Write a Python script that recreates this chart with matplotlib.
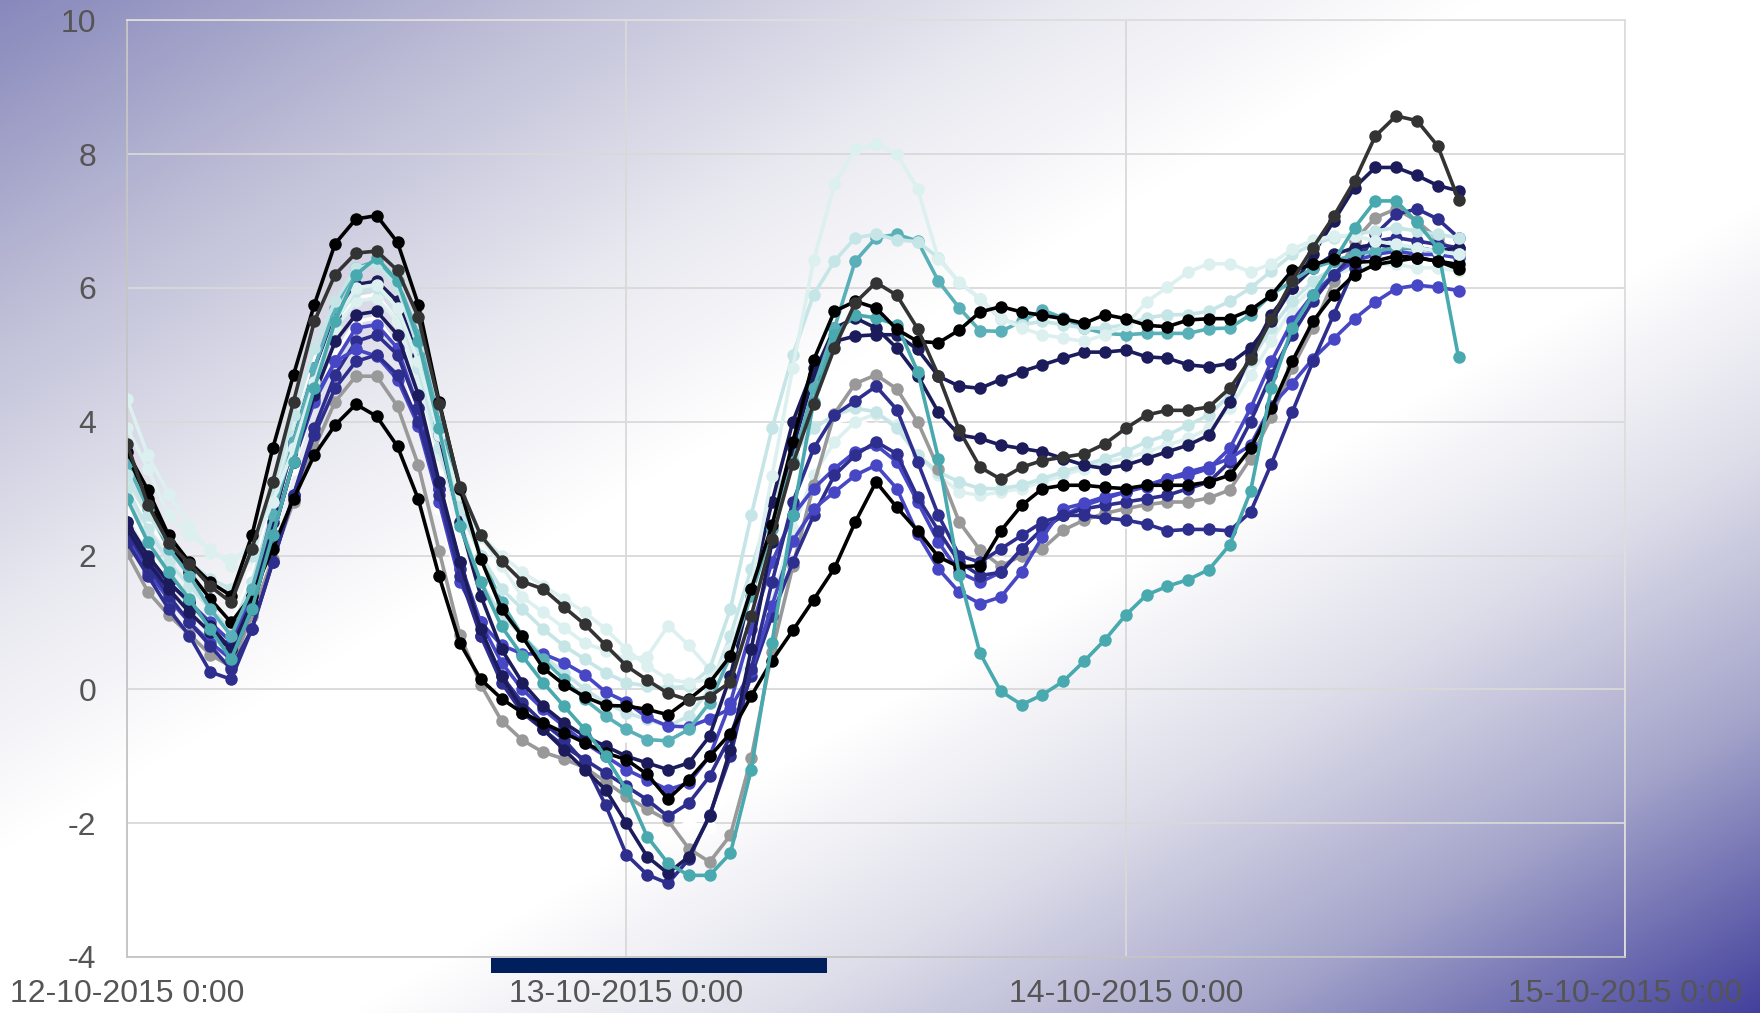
"""
Hourly temperature traces, 12-10-2015 to 14-10-2015, drawn on a
diagonal blue/white gradient background.
"""

import numpy as np
import pandas as pd
import matplotlib
matplotlib.use("Agg")
import matplotlib.pyplot as plt
import matplotlib.dates as mdates
import matplotlib.transforms as mtransforms
from matplotlib.patches import Rectangle

# ------------------------------------------------------------------
# Data (one value per hour, starting 12-10-2015 0:00)
# ------------------------------------------------------------------
START = "2015-10-12 00:00"
X_TICKS = ["2015-10-12", "2015-10-13", "2015-10-14", "2015-10-15"]
X_TICK_LABELS = ["12-10-2015 0:00", "13-10-2015 0:00", "14-10-2015 0:00", "15-10-2015 0:00"]
Y_TICKS = [-4, -2, 0, 2, 4, 6, 8, 10]
BAR_RANGE = ["2015-10-12 17:30", "2015-10-13 09:40"]

white_b = [2.7, 2.1, 1.6, 1.3, 1.0, 0.75, 1.3, 2.3, 3.3, 4.3, 5.0, 5.5, 5.55,
           5.1, 4.0, 2.7, 1.5, 0.6, 0.0, -0.45, -0.8, -1.1, -1.4, -1.7, -2.0, -2.26, -2.1, -2.0,
           -2.05, -1.45, -0.3, 0.9, 1.9, 2.6, 3.2, 3.5, 3.6, 3.3, 2.8, 2.2, 1.95,
           1.9, 1.9, 2.0, 2.1, 2.2, 2.35, 2.45, 2.5, 2.55, 2.6, 2.7, 2.8,
           3.2, 3.9, 4.7, 5.4, 5.9, 6.3, 6.6, 6.8, 6.9, 6.9, 6.85, 6.8]
white_a = [3.0, 2.5, 2.1, 1.7, 1.35, 1.0, 1.7, 2.8, 3.9, 4.9, 5.5, 5.85, 5.9,
           5.5, 4.5, 3.2, 2.0, 1.2, 0.7, 0.35, 0.1, -0.1, -0.3, -0.5, -0.7, -0.9, -1.1, -1.0,
           -0.6, 0.3, 1.5, 2.6, 3.3, 3.8, 4.0, 4.05, 3.9, 3.7, 3.3, 3.0, 2.9,
           2.85, 2.85, 2.9, 2.95, 3.0, 3.05, 3.1, 3.15, 3.2, 3.3, 3.4, 3.5,
           3.9, 4.6, 5.3, 5.9, 6.4, 7.0, 7.3, 7.6, 7.67, 7.7, 7.6, 7.4]
pale_b = [3.9, 3.3, 2.6, 2.3, 2.1, 1.85, 2.2, 2.9, 3.9, 4.8, 5.4, 5.8, 5.85,
          5.5, 4.6, 3.5, 2.7, 2.28, 1.85, 1.38, 1.15, 0.92, 0.69, 0.58, 0.45, 0.49, 0.95, 0.66,
          0.3, 0.15, 0.4, 1.3, 2.4, 3.2, 3.7, 4.0, 4.12, 3.95, 3.5, 3.2, 2.95,
          2.9, 2.95, 3.0, 3.1, 3.2, 3.3, 3.4, 3.45, 3.55, 3.65, 3.75, 3.9,
          4.2, 4.7, 5.2, 5.7, 6.0, 6.2, 6.3, 6.35, 6.35, 6.3, 6.3, 6.25]
lcyan_b = [3.0, 2.4, 1.9, 1.55, 1.2, 0.9, 1.6, 2.7, 3.8, 4.8, 5.5, 5.95, 6.0,
           5.7, 4.8, 3.6, 2.5, 1.6, 1.1, 0.8, 0.5, 0.25, 0.0, -0.2, -0.35, -0.45, -0.55, -0.4,
           0.0, 0.8, 1.8, 2.8, 3.5, 3.9, 4.1, 4.2, 4.15, 3.9, 3.5, 3.25, 3.1,
           3.0, 3.0, 3.05, 3.15, 3.25, 3.35, 3.45, 3.55, 3.7, 3.8, 3.95, 4.1,
           4.4, 4.9, 5.4, 5.8, 6.1, 6.3, 6.45, 6.5, 6.55, 6.55, 6.5, 6.45]
gray = [2.04, 1.46, 1.11, 0.82, 0.52, 0.34, 1.1, 1.95, 2.8, 3.6, 4.3, 4.68, 4.68,
        4.23, 3.35, 2.07, 0.81, 0.07, -0.47, -0.76, -0.94, -1.04, -1.17, -1.38, -1.6, -1.79, -1.96, -2.38,
        -2.58, -2.18, -1.03, 0.56, 1.84, 3.05, 4.12, 4.57, 4.7, 4.49, 4.0, 3.3, 2.5,
        2.08, 1.84, 2.0, 2.1, 2.38, 2.53, 2.63, 2.7, 2.76, 2.8, 2.8, 2.86,
        2.98, 3.45, 4.07, 4.8, 5.4, 6.1, 6.7, 7.05, 7.18, 7.0, 6.73, 6.5]
blue_b = [2.3, 1.75, 1.35, 1.0, 0.7, 0.45, 1.2, 2.3, 3.4, 4.3, 4.9, 5.4, 5.45,
          5.1, 4.2, 3.0, 1.9, 1.0, 0.4, 0.0, -0.3, -0.55, -0.8, -1.0, -1.2, -1.35, -1.5, -1.4,
          -1.0, -0.2, 0.9, 1.9, 2.6, 3.0, 3.3, 3.55, 3.65, 3.4, 2.8, 2.2, 1.75,
          1.6, 1.75, 2.1, 2.4, 2.6, 2.75, 2.85, 2.95, 3.05, 3.15, 3.2, 3.3,
          3.6, 4.2, 4.9, 5.5, 5.9, 6.2, 6.4, 6.5, 6.55, 6.5, 6.5, 6.45]
dblue_b = [2.35, 1.85, 1.4, 1.0, 0.65, 0.3, 0.9, 1.9, 2.9, 3.9, 4.7, 5.2, 5.3,
           5.0, 4.2, 3.0, 1.8, 0.8, 0.1, -0.35, -0.6, -0.85, -1.05, -1.25, -1.45, -1.65, -1.9, -1.7,
           -1.3, -0.7, 0.2, 1.1, 1.9, 2.6, 3.2, 3.5, 3.7, 3.52, 2.87, 2.37, 1.9,
           1.7, 1.75, 2.1, 2.4, 2.6, 2.7, 2.75, 2.8, 2.85, 2.9, 3.0, 3.1,
           3.4, 4.0, 4.7, 5.3, 5.8, 6.2, 6.5, 6.7, 6.75, 6.7, 6.65, 6.6]
blue_a = [2.5, 1.93, 1.6, 1.3, 1.0, 0.71, 1.4, 2.66, 3.64, 4.34, 4.9, 5.08, 4.98,
          4.63, 3.94, 2.8, 1.6, 1.0, 0.66, 0.53, 0.53, 0.4, 0.22, -0.04, -0.19, -0.42, -0.55, -0.56,
          -0.44, -0.29, 0.28, 1.25, 2.22, 2.7, 2.95, 3.2, 3.35, 3.0, 2.32, 1.8, 1.45,
          1.28, 1.38, 1.76, 2.28, 2.7, 2.78, 2.88, 2.95, 3.03, 3.15, 3.25, 3.33,
          3.45, 3.65, 4.24, 4.57, 4.94, 5.24, 5.54, 5.79, 5.99, 6.04, 6.01, 5.96]
dblue_a = [2.2, 1.7, 1.2, 0.8, 0.26, 0.15, 0.9, 1.9, 2.9, 3.8, 4.5, 4.9, 5.0,
           4.7, 4.0, 2.9, 1.7, 0.8, 0.2, -0.2, -0.5, -0.75, -1.1, -1.73, -2.47, -2.77, -2.9, -2.54,
           -1.88, -1.0, 0.3, 1.6, 2.8, 3.6, 4.1, 4.31, 4.53, 4.18, 3.4, 2.6, 2.0,
           1.9, 2.1, 2.3, 2.5, 2.6, 2.6, 2.56, 2.53, 2.47, 2.37, 2.39, 2.39,
           2.37, 2.65, 3.37, 4.14, 4.9, 5.6, 6.3, 6.8, 7.1, 7.18, 7.03, 6.75]
navy_b = [2.4, 1.9, 1.5, 1.15, 0.85, 0.6, 1.2, 2.3, 3.4, 4.4, 5.2, 5.6, 5.65,
          5.3, 4.4, 3.1, 1.9, 0.9, 0.2, -0.3, -0.6, -0.9, -1.2, -1.5, -2.0, -2.5, -2.75, -2.5,
          -1.9, -0.9, 0.6, 2.2, 3.6, 4.7, 5.4, 5.55, 5.4, 5.1, 4.69, 4.14, 3.8,
          3.75, 3.65, 3.6, 3.55, 3.45, 3.35, 3.3, 3.35, 3.45, 3.55, 3.65, 3.8,
          4.3, 5.0, 5.6, 6.0, 6.3, 6.5, 6.6, 6.65, 6.6, 6.6, 6.55, 6.6]
navy_a = [2.5, 2.0, 1.6, 1.3, 0.95, 0.6, 1.3, 2.5, 3.7, 4.8, 5.6, 6.05, 6.1,
          5.8, 5.0, 3.8, 2.5, 1.4, 0.6, 0.1, -0.25, -0.5, -0.7, -0.85, -1.0, -1.1, -1.2, -1.1,
          -0.7, 0.2, 1.5, 2.8, 4.0, 4.8, 5.2, 5.28, 5.3, 5.3, 5.08, 4.68, 4.53,
          4.5, 4.63, 4.75, 4.85, 4.95, 5.04, 5.04, 5.07, 4.97, 4.95, 4.85, 4.82,
          4.87, 5.1, 5.5, 6.0, 6.5, 7.0, 7.5, 7.8, 7.8, 7.68, 7.53, 7.45]
blk_b = [3.45, 2.85, 2.2, 1.75, 1.35, 1.0, 1.4, 2.1, 2.85, 3.5, 3.95, 4.26, 4.08,
         3.63, 2.84, 1.69, 0.69, 0.15, -0.14, -0.35, -0.5, -0.65, -0.8, -0.95, -1.05, -1.27, -1.64, -1.35,
         -1.0, -0.66, -0.1, 0.43, 0.88, 1.34, 1.81, 2.5, 3.1, 2.72, 2.37, 1.98, 1.83,
         1.85, 2.37, 2.75, 3.0, 3.05, 3.05, 3.02, 3.0, 3.05, 3.05, 3.05, 3.1,
         3.2, 3.6, 4.2, 4.9, 5.5, 5.9, 6.2, 6.35, 6.4, 6.45, 6.4, 6.35]
teal_b = [3.38, 2.7, 2.1, 1.7, 1.2, 0.8, 1.5, 2.6, 3.7, 4.8, 5.7, 6.3, 6.4,
          6.1, 5.3, 4.0, 2.9, 2.0, 1.3, 0.8, 0.45, 0.15, -0.15, -0.4, -0.6, -0.75, -0.77, -0.6,
          -0.2, 0.5, 1.4, 2.4, 3.4, 4.5, 5.4, 6.4, 6.75, 6.8, 6.7, 6.1, 5.7,
          5.36, 5.35, 5.5, 5.67, 5.55, 5.4, 5.32, 5.3, 5.32, 5.32, 5.32, 5.39,
          5.4, 5.6, 5.9, 6.1, 6.3, 6.4, 6.5, 6.55, 6.6, 6.6, 6.55, 6.5]
lcyan_a = [3.2, 2.6, 2.2, 1.9, 1.65, 1.5, 2.0, 3.0, 4.1, 5.1, 5.8, 6.3, 6.35,
           6.0, 5.1, 3.9, 2.7, 2.0, 1.5, 1.2, 0.9, 0.65, 0.45, 0.25, 0.1, 0.05, 0.02, 0.05,
           0.3, 1.2, 2.6, 3.9, 5.0, 5.9, 6.4, 6.75, 6.8, 6.72, 6.69, 6.45, 6.08,
           5.84, 5.53, 5.45, 5.5, 5.45, 5.4, 5.4, 5.45, 5.55, 5.6, 5.6, 5.65,
           5.8, 6.0, 6.25, 6.5, 6.65, 6.75, 6.8, 6.85, 6.9, 6.85, 6.8, 6.75]
pale_a = [4.34, 3.5, 2.92, 2.44, 2.04, 1.95, 2.1, 2.8, 3.6, 4.6, 5.5, 6.0, 6.05,
          5.7, 4.9, 3.8, 2.9, 2.3, 2.0, 1.75, 1.55, 1.35, 1.15, 0.9, 0.6, 0.35, 0.15, 0.1,
          0.15, 0.6, 1.53, 3.19, 4.81, 6.41, 7.55, 8.07, 8.15, 8.0, 7.48, 6.43, 6.09,
          5.84, 5.55, 5.4, 5.3, 5.25, 5.2, 5.3, 5.44, 5.79, 6.01, 6.24, 6.36,
          6.36, 6.24, 6.36, 6.58, 6.71, 6.78, 6.78, 6.7, 6.65, 6.6, 6.55, 6.5]
teal_a = [2.85, 2.2, 1.75, 1.35, 0.9, 0.45, 1.2, 2.3, 3.4, 4.5, 5.5, 6.2, 6.45,
          6.1, 5.2, 3.9, 2.44, 1.61, 0.94, 0.5, 0.1, -0.25, -0.6, -1.0, -1.5, -2.2, -2.6, -2.78,
          -2.78, -2.45, -1.2, 0.7, 2.6, 4.3, 5.3, 5.6, 5.55, 5.45, 4.75, 3.45, 1.71,
          0.54, -0.03, -0.23, -0.08, 0.12, 0.42, 0.74, 1.11, 1.41, 1.54, 1.64, 1.79,
          2.16, 2.96, 4.5, 5.4, 5.9, 6.4, 6.9, 7.3, 7.3, 6.98, 6.6, 4.96]
blk_a = [3.55, 2.98, 2.3, 1.9, 1.6, 1.4, 2.3, 3.6, 4.7, 5.75, 6.66, 7.03, 7.08,
         6.68, 5.75, 4.3, 3.0, 1.95, 1.2, 0.79, 0.32, 0.07, -0.11, -0.24, -0.25, -0.3, -0.38, -0.15,
         0.1, 0.5, 1.5, 2.45, 3.7, 4.92, 5.65, 5.8, 5.7, 5.38, 5.2, 5.18, 5.37,
         5.64, 5.72, 5.64, 5.59, 5.54, 5.47, 5.6, 5.54, 5.44, 5.42, 5.52, 5.54,
         5.54, 5.67, 5.89, 6.26, 6.35, 6.43, 6.38, 6.4, 6.48, 6.45, 6.4, 6.28]
dgray = [3.67, 2.76, 2.18, 1.88, 1.54, 1.30, 2.1, 3.1, 4.3, 5.5, 6.2, 6.52, 6.55,
         6.26, 5.56, 4.27, 3.03, 2.3, 1.92, 1.61, 1.5, 1.23, 0.97, 0.66, 0.35, 0.14, -0.06, -0.16,
         -0.11, 0.11, 1.1, 2.25, 3.37, 4.27, 5.1, 5.78, 6.08, 5.89, 5.39, 4.69, 3.87,
         3.32, 3.14, 3.32, 3.42, 3.47, 3.52, 3.67, 3.9, 4.1, 4.17, 4.17, 4.22,
         4.5, 4.93, 5.53, 6.11, 6.6, 7.07, 7.6, 8.27, 8.57, 8.5, 8.12, 7.32]

# drawing order, first drawn is at the back
SERIES = [
    (white_b, "#ffffff"), (white_a, "#ffffff"), (pale_b, "#ddf0f0"),
    (lcyan_b, "#c6e5e7"), (gray, "#999999"), (blue_b, "#4747c6"),
    (dblue_b, "#2e2e8f"), (blue_a, "#4747c6"), (dblue_a, "#2e2e8f"),
    (navy_b, "#1c1c5c"), (navy_a, "#1c1c5c"), (blk_b, "#000000"),
    (teal_b, "#5ab0b8"), (lcyan_a, "#c6e5e7"), (pale_a, "#ddf0f0"),
    (teal_a, "#48a9ae"), (blk_a, "#000000"), (dgray, "#333333"),
]

plt.rcParams["font.family"] = ["Liberation Sans", "DejaVu Sans"]

W, H = 1760, 1013
fig = plt.figure(figsize=(W / 100, H / 100), dpi=100)

# diagonal gradient over the whole figure box (corner to corner)
yy, xx = np.mgrid[0:H, 0:W]
t = (xx / (W - 1) + yy / (H - 1)) / 2
stops = [0.0, 0.15, 0.3, 0.42, 0.6, 0.72, 0.85, 1.0]
rgb = np.dstack([
    np.interp(t, stops, [136, 188, 232, 255, 255, 222, 165, 66]),
    np.interp(t, stops, [136, 188, 232, 255, 255, 222, 165, 64]),
    np.interp(t, stops, [188, 214, 240, 255, 255, 234, 203, 156]),
]) / 255.0
bg = fig.add_axes([0, 0, 1, 1], zorder=-10)
bg.imshow(rgb, aspect="auto", interpolation="bilinear")
bg.axis("off")

ax = fig.add_axes([0.0722, 0.0553, 0.8511, 0.9247])
ax.set_facecolor("none")

times = pd.date_range(START, periods=len(dgray), freq="h")
for vals, color in SERIES:
    ax.plot(times, vals, color=color, lw=2.6, marker="o", ms=9,
            markeredgewidth=0, solid_joinstyle="round")

ax.set_xlim(pd.Timestamp(X_TICKS[0]), pd.Timestamp(X_TICKS[-1]))
ax.set_ylim(Y_TICKS[0], Y_TICKS[-1])
ax.set_xticks(pd.to_datetime(X_TICKS))
ax.set_xticklabels(X_TICK_LABELS)
ax.set_yticks(Y_TICKS)
ax.set_yticklabels([str(v) for v in Y_TICKS])

ax.grid(True, color="#d9d9d9", lw=1.3)
ax.set_axisbelow(True)
for side, spine in ax.spines.items():
    spine.set_color("#c4c4c4" if side in ("left", "bottom") else "#dedede")
    spine.set_linewidth(1.3)

ax.tick_params(axis="both", length=0, labelsize=23, labelcolor="#555555")
ax.tick_params(axis="y", pad=22)
ax.tick_params(axis="x", pad=16)

# navy range bar just under the x axis
x0 = mdates.date2num(pd.Timestamp(BAR_RANGE[0]))
x1 = mdates.date2num(pd.Timestamp(BAR_RANGE[1]))
trans = mtransforms.blended_transform_factory(ax.transData, ax.transAxes)
ax.add_patch(Rectangle((x0, -0.0175), x1 - x0, 0.0165, transform=trans,
                       facecolor="#001f5c", edgecolor="none", clip_on=False))

fig.savefig("out.png", dpi=100)
